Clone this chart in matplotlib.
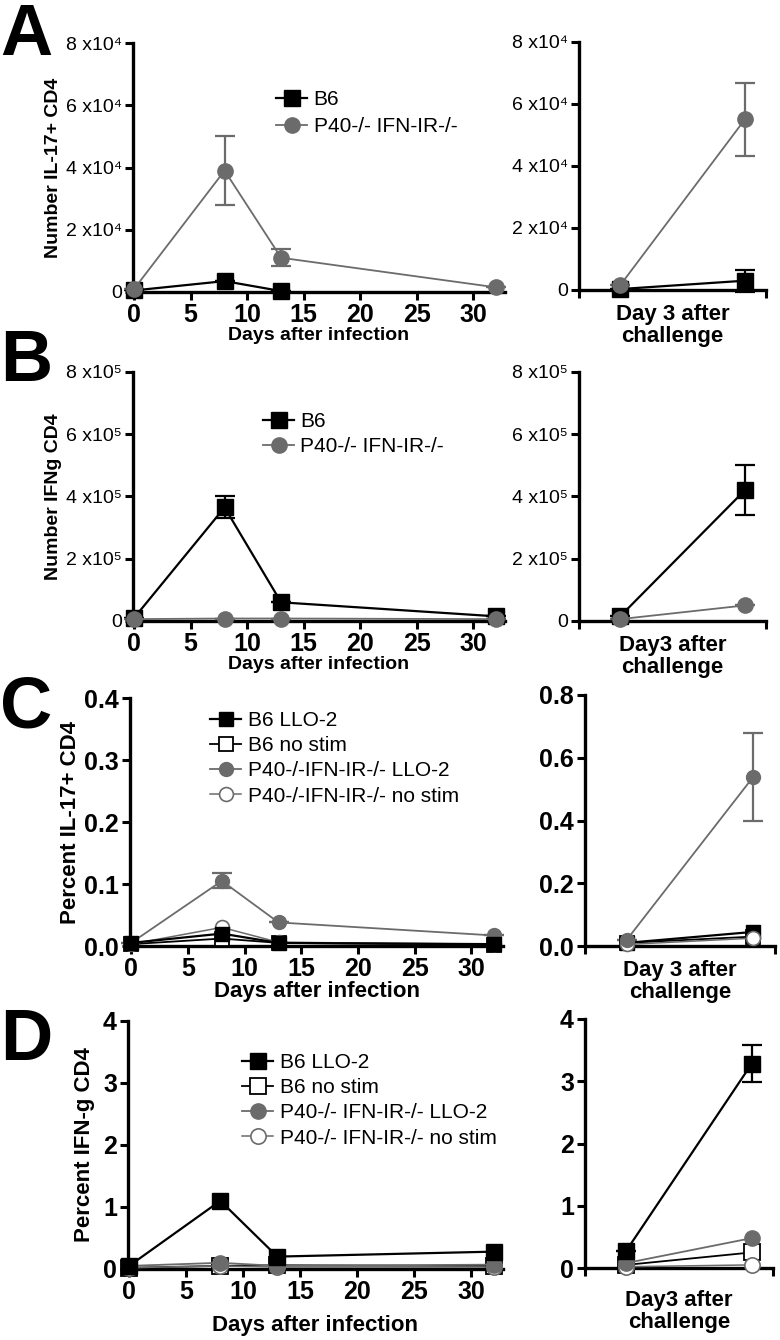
import matplotlib
matplotlib.use("Agg")
import matplotlib.pyplot as plt
from matplotlib.ticker import FuncFormatter

plt.rcParams['font.family'] = ['Liberation Sans', 'DejaVu Sans']

# days after primary infection
days = [0, 8, 13, 32]
# challenge panels: day 0 of challenge and day 3 after challenge
chal = [0, 1]

# A - number IL-17+ CD4 (no B6 value visible at day 32)
a_b6 = [500, 3500, 300, float('nan')]
a_b6_err = [0, 0, 0, 0]
a_p40 = [1000, 39000, 11000, 1500]
a_p40_err = [0, 11000, 2800, 0]
a_ch_b6 = [300, 3000]
a_ch_b6_err = [0, 3500]
a_ch_p40 = [1500, 55000]
a_ch_p40_err = [0, 11700]

# B - number IFNg CD4
b_b6 = [10000, 365000, 60000, 15000]
b_b6_err = [0, 35000, 0, 0]
b_p40 = [6000, 8000, 8000, 6000]
b_p40_err = [0, 0, 0, 0]
b_ch_b6 = [15000, 420000]
b_ch_b6_err = [0, 80000]
b_ch_p40 = [6000, 50000]
b_ch_p40_err = [0, 0]

# C - percent IL-17+ CD4
c_b6_llo = [0.005, 0.02, 0.005, 0.003]
c_b6_ns = [0.003, 0.012, 0.005, 0.002]
c_p40_llo = [0.005, 0.105, 0.038, 0.017]
c_p40_llo_err = [0, 0.012, 0, 0]
c_p40_ns = [0.003, 0.03, 0.006, 0.003]
c_ch_b6_llo = [0.01, 0.045]
c_ch_b6_ns = [0.01, 0.03]
c_ch_p40_llo = [0.02, 0.54]
c_ch_p40_llo_err = [0, 0.14]
c_ch_p40_ns = [0.005, 0.025]

# D - percent IFN-g CD4
d_b6_llo = [0.05, 1.1, 0.2, 0.28]
d_b6_ns = [0.02, 0.05, 0.06, 0.05]
d_p40_llo = [0.05, 0.1, 0.05, 0.07]
d_p40_ns = [0.02, 0.05, 0.03, 0.03]
d_ch_b6_llo = [0.28, 3.28]
d_ch_b6_llo_err = [0, 0.3]
d_ch_b6_ns = [0.05, 0.25]
d_ch_p40_llo = [0.08, 0.48]
d_ch_p40_ns = [0.02, 0.05]

GRAY = '#6b6b6b'
W, H = 780, 1340

fig = plt.figure(figsize=(7.8, 13.4), dpi=100)


def px_axes(l, t, r, b):
    return fig.add_axes([l / W, 1 - b / H, (r - l) / W, (b - t) / H])


def style(ax, ylim, ytick_size, ytick_bold):
    for s in ['top', 'right']:
        ax.spines[s].set_visible(False)
    for s in ['left', 'bottom']:
        ax.spines[s].set_linewidth(2.4)
    ax.set_ylim(*ylim)
    ax.tick_params(width=2.2, length=6, pad=2)
    ax.tick_params(axis='x', labelsize=18)
    ax.tick_params(axis='y', labelsize=ytick_size)
    for t in ax.get_xticklabels():
        t.set_fontweight('bold')
    if ytick_bold:
        for t in ax.get_yticklabels():
            t.set_fontweight('bold')


def series(ax, x, y, kind, err=None, label=None, ms=11):
    if kind == 'b6':
        kw = dict(color='black', marker='s', mfc='black', mec='black', lw=1.6)
    elif kind == 'b6ns':
        kw = dict(color='black', marker='s', mfc='white', mec='black', lw=1.3, mew=1.3)
    elif kind == 'p40':
        kw = dict(color=GRAY, marker='o', mfc=GRAY, mec=GRAY, lw=1.3)
    else:
        kw = dict(color=GRAY, marker='o', mfc='white', mec=GRAY, lw=1.1, mew=1.2)
    ax.errorbar(x, y, yerr=err, ms=ms, capsize=7, elinewidth=1.6, capthick=1.6,
                ecolor=kw['color'], clip_on=False, zorder=4, **kw)
    line, = ax.plot([], [], ms=ms, label=label, **kw)
    return line


def sci_fmt(exp):
    sup = {4: '\u2074', 5: '\u2075'}[exp]
    return FuncFormatter(lambda v, p: '0' if v == 0 else f'{v / 10 ** exp:.0f} x10{sup}')


def left_panel(ax):
    ax.set_xlim(-0.1, 32.8)
    ax.set_xticks([0, 5, 10, 15, 20, 25, 30])


def right_panel(ax):
    ax.set_xlim(-0.33, 1.17)
    ax.set_xticks([-0.33, 1.17])
    ax.set_xticklabels(['', ''])


leg_kw = dict(loc='upper left', frameon=False, fontsize=15, handlelength=1.5,
              handletextpad=0.3, borderpad=0, borderaxespad=0)

# ---------- A ----------
axA = px_axes(133, 43, 505, 292)
left_panel(axA)
h1 = series(axA, days, a_b6, 'b6', a_b6_err, 'B6')
h2 = series(axA, days, a_p40, 'p40', a_p40_err, 'P40-/- IFN-IR-/-')
axA.set_yticks([0, 2e4, 4e4, 6e4, 8e4])
axA.yaxis.set_major_formatter(sci_fmt(4))
style(axA, (0, 8e4), 14, False)
axA.set_xlabel('Days after infection', fontsize=14, fontweight='bold', labelpad=0)
axA.set_ylabel('Number IL-17+ CD4', fontsize=14, fontweight='bold', labelpad=3)
fig.legend(handles=[h1, h2], bbox_to_anchor=(276 / W, 1 - 90 / H), labelspacing=0.4, **leg_kw)

axA2 = px_axes(579, 42, 766, 290)
right_panel(axA2)
series(axA2, chal, a_ch_b6, 'b6', a_ch_b6_err)
series(axA2, chal, a_ch_p40, 'p40', a_ch_p40_err)
axA2.set_yticks([0, 2e4, 4e4, 6e4, 8e4])
axA2.yaxis.set_major_formatter(sci_fmt(4))
style(axA2, (0, 8e4), 14, False)
axA2.set_xlabel('Day 3 after\nchallenge', fontsize=16, fontweight='bold', labelpad=2,
                linespacing=1.05)

# ---------- B ----------
axB = px_axes(133, 372, 505, 621)
left_panel(axB)
h1 = series(axB, days, b_b6, 'b6', b_b6_err, 'B6')
h2 = series(axB, days, b_p40, 'p40', b_p40_err, 'P40-/- IFN-IR-/-')
axB.set_yticks([0, 2e5, 4e5, 6e5, 8e5])
axB.yaxis.set_major_formatter(sci_fmt(5))
style(axB, (0, 8e5), 14, False)
axB.set_xlabel('Days after infection', fontsize=14, fontweight='bold', labelpad=0)
axB.set_ylabel('Number IFNg CD4', fontsize=14, fontweight='bold', labelpad=3)
fig.legend(handles=[h1, h2], bbox_to_anchor=(263 / W, 1 - 412 / H), labelspacing=0.3, **leg_kw)

axB2 = px_axes(579, 372, 766, 621)
right_panel(axB2)
series(axB2, chal, b_ch_b6, 'b6', b_ch_b6_err)
series(axB2, chal, b_ch_p40, 'p40', b_ch_p40_err)
axB2.set_yticks([0, 2e5, 4e5, 6e5, 8e5])
axB2.yaxis.set_major_formatter(sci_fmt(5))
style(axB2, (0, 8e5), 14, False)
axB2.set_xlabel('Day3 after\nchallenge', fontsize=16, fontweight='bold', labelpad=2,
                linespacing=1.05)

# ---------- C ----------
axC = px_axes(130, 698, 503, 946)
left_panel(axC)
h3 = series(axC, days, c_b6_ns, 'b6ns', None, 'B6 no stim', ms=10)
h4 = series(axC, days, c_p40_ns, 'p40ns', None, 'P40-/-IFN-IR-/- no stim', ms=10)
h2 = series(axC, days, c_p40_llo, 'p40', c_p40_llo_err, 'P40-/-IFN-IR-/- LLO-2', ms=10)
h1 = series(axC, days, c_b6_llo, 'b6', None, 'B6 LLO-2', ms=10)
axC.set_yticks([0, 0.1, 0.2, 0.3, 0.4])
axC.yaxis.set_major_formatter(FuncFormatter(lambda v, p: f'{v:.1f}'))
style(axC, (0, 0.4), 18, True)
axC.set_xlabel('Days after infection', fontsize=16, fontweight='bold', labelpad=0)
axC.set_ylabel('Percent IL-17+ CD4', fontsize=16, fontweight='bold', labelpad=2)
fig.legend(handles=[h1, h3, h2, h4], bbox_to_anchor=(210 / W, 1 - 711 / H),
           labelspacing=0.3, **leg_kw)

axC2 = px_axes(585, 695, 775, 946)
right_panel(axC2)
series(axC2, chal, c_ch_b6_ns, 'b6ns', None, ms=10)
series(axC2, chal, c_ch_b6_llo, 'b6', None, ms=10)
series(axC2, chal, c_ch_p40_ns, 'p40ns', None, ms=10)
series(axC2, chal, c_ch_p40_llo, 'p40', c_ch_p40_llo_err, ms=10)
axC2.set_yticks([0, 0.2, 0.4, 0.6, 0.8])
axC2.yaxis.set_major_formatter(FuncFormatter(lambda v, p: f'{v:.1f}'))
style(axC2, (0, 0.8), 18, True)
axC2.set_xlabel('Day 3 after\nchallenge', fontsize=16, fontweight='bold', labelpad=2,
                linespacing=1.05)

# ---------- D ----------
axD = px_axes(128, 1021, 503, 1269)
left_panel(axD)
h3 = series(axD, days, d_b6_ns, 'b6ns', None, 'B6 no stim', ms=11)
h4 = series(axD, days, d_p40_ns, 'p40ns', None, 'P40-/- IFN-IR-/- no stim', ms=11)
h2 = series(axD, days, d_p40_llo, 'p40', None, 'P40-/- IFN-IR-/- LLO-2', ms=11)
h1 = series(axD, days, d_b6_llo, 'b6', None, 'B6 LLO-2', ms=12)
axD.set_yticks([0, 1, 2, 3, 4])
style(axD, (0, 4), 18, True)
axD.set_xlabel('Days after infection', fontsize=16, fontweight='bold', labelpad=8)
axD.set_ylabel('Percent IFN-g CD4', fontsize=16, fontweight='bold', labelpad=6)
fig.legend(handles=[h1, h3, h2, h4], bbox_to_anchor=(242 / W, 1 - 1053 / H),
           labelspacing=0.3, **leg_kw)

axD2 = px_axes(585, 1019, 773, 1268)
right_panel(axD2)
series(axD2, chal, d_ch_b6_ns, 'b6ns', None, ms=11)
series(axD2, chal, d_ch_p40_ns, 'p40ns', None, ms=11)
series(axD2, chal, d_ch_p40_llo, 'p40', None, ms=11)
series(axD2, chal, d_ch_b6_llo, 'b6', d_ch_b6_llo_err, ms=12)
axD2.set_yticks([0, 1, 2, 3, 4])
style(axD2, (0, 4), 18, True)
axD2.set_xlabel('Day3 after\nchallenge', fontsize=16, fontweight='bold', labelpad=8,
                linespacing=1.05)

# panel letters
for letter, base in [('A', 55), ('B', 381), ('C', 727), ('D', 1060)]:
    fig.text(0.0, 1 - base / H, letter, fontsize=52, fontweight='bold',
             ha='left', va='baseline')

fig.savefig('out.png', dpi=100, facecolor='white')
